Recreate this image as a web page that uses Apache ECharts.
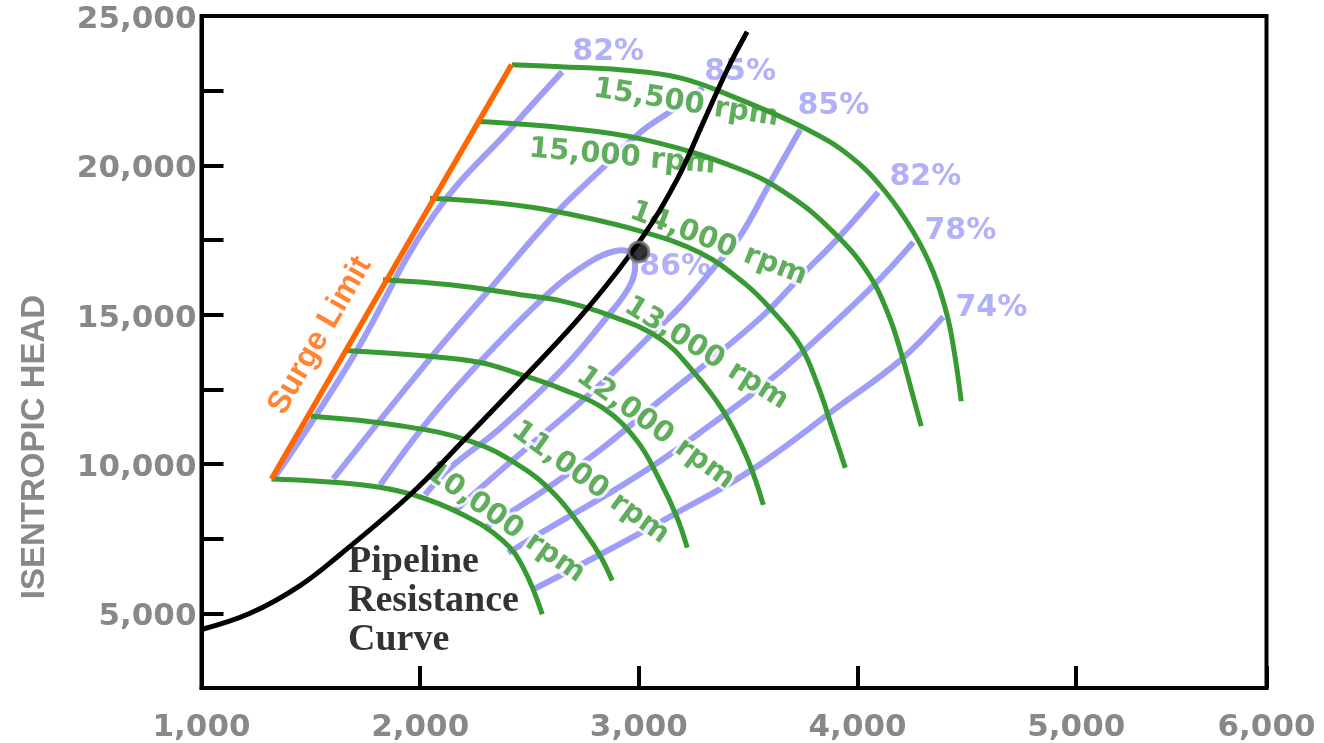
<!DOCTYPE html>
<html><head><meta charset="utf-8">
<script src="https://cdn.jsdelivr.net/npm/echarts@6/dist/echarts.min.js"></script>
<style>html,body{margin:0;padding:0;background:#fff}#c{width:1324px;height:743px}</style>
</head><body><div id="c"></div>
<script>
// ---- tick labels ----
const xTickLabels = ['1,000','2,000','3,000','4,000','5,000','6,000'];
const yTickLabels = {5000:'5,000',10000:'10,000',15000:'15,000',20000:'20,000',25000:'25,000'};

// ---- surge limit ----
const surgeLimit = [[1320,9500],[2418,23370]];

// ---- speed lines (flow, head) ----
const rpm15500 = [[2420,23370],[2640,23300],[2914,23200],[3189,22930],[3463,22200],[3770,21200],[3967,20300],[4118,19200],[4255,17770],[4346,16430],[4410,14970],[4447,13530],[4474,12100]];
const rpm15000 = [[2260,21470],[2640,21270],[3020,20870],[3463,19870],[3692,18970],[3889,17770],[4044,16430],[4136,15100],[4200,13700],[4250,12370],[4291,11270]];
const rpm14000 = [[2045,18900],[2366,18730],[2640,18430],[3006,17800],[3280,17070],[3486,16030],[3614,15100],[3738,13970],[3820,12600],[3884,11200],[3944,9870]];
const rpm13000 = [[1830,16170],[2137,16000],[2457,15670],[2640,15470],[2869,14970],[3097,14200],[3248,13100],[3386,11770],[3495,10200],[3569,8630]];
const rpm12000 = [[1656,13800],[2000,13630],[2274,13400],[2457,13000],[2640,12530],[2837,11870],[2992,10770],[3097,9430],[3175,8200],[3221,7200]];
const rpm11000 = [[1501,11600],[1894,11300],[2228,10770],[2457,9930],[2617,8970],[2754,7700],[2823,6930],[2878,6100]];
const rpm10000 = [[1320,9500],[1739,9300],[1968,8970],[2196,8300],[2379,7430],[2471,6530],[2558,4970]];

// ---- efficiency contours ----
const eff82Left  = [[1336,9570],[1688,13530],[2059,18300],[2443,21470],[2649,23130]];
const eff85Left  = [[1602,9500],[2045,13530],[2320,15870],[2608,18300],[2837,19930],[3006,21100],[3143,21800],[3294,22600]];
const eff86      = [[1817,9300],[2045,11530],[2288,13530],[2594,15770],[2777,16770],[2892,17130],[2960,17070],[2983,16600],[2956,15930],[2855,14930],[2654,13200],[2366,11200],[2137,9870],[2022,8970]];
const eff85Right = [[2160,8430],[2288,9270],[2503,10630],[2686,11770],[2869,12970],[3052,14300],[3189,15270],[3358,16700],[3463,17630],[3601,19430],[3738,21200]];
const eff82Right = [[2297,7870],[2549,9030],[2823,10470],[3097,12130],[3381,13800],[3587,15100],[3738,16270],[3907,17530],[4095,19100]];
const eff78      = [[2402,7030],[2640,8070],[2882,9100],[3097,10100],[3326,11300],[3569,12630],[3752,13770],[4072,15970],[4255,17430]];
const eff74      = [[2517,5800],[2823,6970],[3157,8300],[3509,9770],[3921,11970],[4195,13470],[4392,14930]];

// ---- pipeline resistance curve & operating point ----
const pipeline = [[1000,4460],[1222,5000],[1451,5930],[1634,6970],[1954,8970],[2196,10770],[2471,12870],[2764,15200],[3020,17630],[3175,19530],[3294,21430],[3404,23200],[3495,24470]];
const operatingPoint = [[3000,17100]];

// ---- annotations ----
const rpmLabelText  = ['15,500 rpm','15,000 rpm','14,000 rpm','13,000 rpm','12,000 rpm','11,000 rpm','10,000 rpm'];
const rpmLabelAt    = [[3216,22070],[2924,20270],[3363,17370],[3308,13700],[3075,11200],[2777,9370],[2388,8030]];
const rpmLabelAngle = [-9,-5,-21,-32,-36,-36,-35];
const effLabelText  = ['82%','85%','85%','82%','78%','74%','86%'];
const effLabelAt    = [[2860,23800],[3463,23130],[3889,21970],[4310,19600],[4470,17800],[4612,15200],[3166,16600]];
const surgeLabelAt  = [1542,14300];
const pipeLabelAt   = [1670,5400];

const GREEN = '#389a32', PURPLE = '#9e9ef8', ORANGE = '#ff6600';

// smooth curve through the data points, positioned with the chart's own axes (api.coord)
function curve(data, color, z, width) {
  return {type:'custom', z, silent:true, data, encode:{x:0, y:1},
    renderItem: (params, api) => {
      if (params.dataIndex !== 0) return null;
      const pts = data.map(p => api.coord(p));
      return {type:'polyline', silent:true,
        shape:{points:pts, smooth:0.4},
        style:{stroke:color, lineWidth:width, fill:null, lineJoin:'round', lineCap:'butt'}};
    }};
}

const series = [];
[eff82Left, eff85Left, eff86, eff85Right, eff82Right, eff78, eff74].forEach(d => series.push(curve(d, PURPLE, 2, 6)));
series.push({
  type:'scatter', z:3, silent:true, symbolSize:1, itemStyle:{color:'rgba(0,0,0,0)'},
  data: rpmLabelText.map((t,i)=>({value:rpmLabelAt[i], name:t, label:{rotate:rpmLabelAngle[i]}})),
  label:{show:true, position:'inside', formatter:p=>p.name, color:GREEN, fontFamily:'DejaVu Sans', fontWeight:'bold', fontSize:29,
         textBorderColor:'#fff', textBorderWidth:6}
});
series.push({
  type:'scatter', z:3, silent:true, symbolSize:1, itemStyle:{color:'rgba(0,0,0,0)'},
  data: effLabelText.map((t,i)=>({value:effLabelAt[i], name:t})),
  label:{show:true, position:'inside', formatter:p=>p.name, color:PURPLE, fontFamily:'DejaVu Sans', fontWeight:'bold', fontSize:30}
});
series.push({
  type:'scatter', z:3, silent:true, symbolSize:1, itemStyle:{color:'rgba(0,0,0,0)'},
  data:[{value:surgeLabelAt, name:'Surge Limit'}],
  label:{show:true, position:'inside', rotate:60, formatter:p=>p.name, color:ORANGE, fontFamily:'Liberation Sans', fontWeight:'bold', fontSize:32}
});
series.push({
  type:'scatter', z:3, silent:true, symbolSize:1, itemStyle:{color:'rgba(0,0,0,0)'},
  data:[{value:pipeLabelAt, name:'Pipeline\nResistance\nCurve'}],
  label:{show:true, position:'inside', align:'left', verticalAlign:'middle', formatter:p=>p.name, color:'#000',
         fontFamily:'Liberation Serif', fontWeight:'bold', fontSize:38, lineHeight:39}
});
[rpm15500, rpm15000, rpm14000, rpm13000, rpm12000, rpm11000, rpm10000].forEach(d => series.push(curve(d, GREEN, 4, 5)));
series.push({type:'line', data:surgeLimit, symbol:'none', silent:true, z:4, lineStyle:{color:ORANGE, width:5.5}});
series.push(curve(pipeline, '#000', 5, 5));
series.push({type:'scatter', data:operatingPoint, z:6, silent:true, symbolSize:20,
             itemStyle:{color:'#000', borderColor:'#777', borderWidth:3}});

const chart = echarts.init(document.getElementById('c'));
chart.setOption({
  animation:false,
  backgroundColor:'#fff',
  grid:{left:201.5, right:57.5, top:16, bottom:53, show:true, borderColor:'#000', borderWidth:4, containLabel:false},
  xAxis:{type:'value', min:1000, max:5870, interval:1000,
    axisLine:{show:true, onZero:false, lineStyle:{color:'#000', width:4}},
    axisTick:{show:true, inside:true, length:22, lineStyle:{color:'#000', width:4}},
    splitLine:{show:false},
    axisLabel:{formatter:v => v >= 5800 ? xTickLabels[5] : xTickLabels[Math.round((v-1000)/1000)],
      color:'#888', fontFamily:'DejaVu Sans', fontWeight:'bold', fontSize:31, margin:24}},
  yAxis:{type:'value', min:2500, max:25000, interval:2500,
    axisLine:{show:true, onZero:false, lineStyle:{color:'#000', width:4}},
    axisTick:{show:true, inside:true, length:22, lineStyle:{color:'#000', width:4}},
    splitLine:{show:false},
    axisLabel:{formatter:v => yTickLabels[v] || '', color:'#888', fontFamily:'DejaVu Sans', fontWeight:'bold', fontSize:31, margin:5,
      verticalAlign:'top', lineHeight:8}},
  graphic:[{type:'text', x:35, y:447, rotation:Math.PI/2, silent:true,
    style:{text:'ISENTROPIC HEAD', fill:'#888', fontFamily:'Liberation Sans', fontWeight:'bold', fontSize:33, align:'center', verticalAlign:'middle'}}],
  series
});
</script></body></html>
